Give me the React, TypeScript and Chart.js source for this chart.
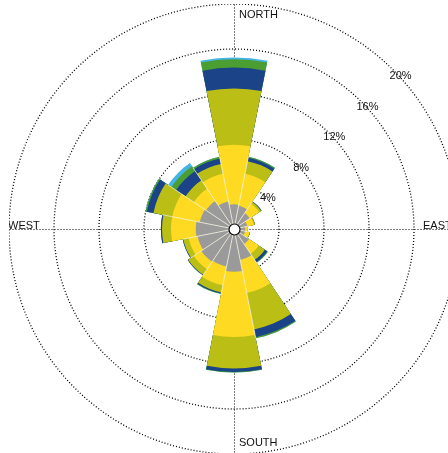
import React, { useEffect, useRef } from "react";
import { Chart, registerables } from "chart.js";

Chart.register(...registerables);

// 16 compass sectors, clockwise from north
const directions = ["N", "NNE", "NE", "ENE", "E", "ESE", "SE", "SSE", "S", "SSW", "SW", "WSW", "W", "WNW", "NW", "NNW"];

// frequency (%) of each speed class per direction (not cumulative)
const speedClass1 = [2.2, 2.1, 1.7, 1.2, 1.0, 1.0, 1.6, 2.8, 3.8, 3.4, 3.5, 3.3, 3.4, 3.1, 3.0, 2.5];
const speedClass2 = [5.3, 2.9, 1.0, 0.6, 0.2, 0.4, 1.05, 3.0, 5.8, 1.7, 0.8, 0.8, 2.2, 2.5, 1.3, 2.5];
const speedClass3 = [5.0, 1.15, 0.2, 0.1, 0.05, 0.05, 0.65, 3.3, 2.8, 0.65, 0.6, 0.5, 0.8, 1.7, 0.9, 0.9];
const speedClass4 = [1.85, 0.3, 0.05, 0, 0, 0, 0.25, 0.7, 0.3, 0.1, 0.05, 0.05, 0.1, 0.6, 1.0, 0.5];
const speedClass5 = [0.75, 0.1, 0, 0, 0, 0, 0.07, 0.1, 0.05, 0.05, 0, 0, 0, 0.12, 0.5, 0.15];
const speedClass6 = [0.15, 0, 0, 0, 0, 0, 0, 0, 0, 0, 0, 0, 0, 0, 0.35, 0];

const classNames = ["class 1", "class 2", "class 3", "class 4", "class 5", "class 6"];
const classColors = ["#9a9a9a", "#ffda22", "#bbbe14", "#1a4388", "#4b9e32", "#45b5e5"];

const ringTicks = [4, 8, 12, 16, 20];
const ringLabels = ["4%", "8%", "12%", "16%", "20%"];
const compassLabels = ["NORTH", "EAST", "SOUTH", "WEST"];

const FONT = '11px "Liberation Sans", Arial, sans-serif';

function cumulative(): number[][] {
  const series = [speedClass1, speedClass2, speedClass3, speedClass4, speedClass5, speedClass6];
  const out: number[][] = [];
  let run = directions.map(() => 0);
  series.forEach((s) => {
    run = run.map((v, i) => v + s[i]);
    out.push(run.slice());
  });
  return out;
}

const decor = {
  id: "roseDecor",
  beforeDatasetsDraw(chart: any) {
    const s = chart.scales.r;
    const ctx = chart.ctx;
    const cx = s.xCenter + 0.5;
    const cy = s.yCenter + 0.5;
    const R = s.drawingArea;
    ctx.save();
    ctx.strokeStyle = "#000";
    ctx.lineWidth = 1;
    ctx.setLineDash([1, 2]);
    ctx.beginPath();
    ctx.moveTo(cx, cy - R);
    ctx.lineTo(cx, cy + R);
    ctx.moveTo(cx - R, cy);
    ctx.lineTo(cx + R, cy);
    ctx.stroke();
    ctx.restore();
  },
  afterDatasetsDraw(chart: any) {
    const s = chart.scales.r;
    const ctx = chart.ctx;
    const cx = s.xCenter;
    const cy = s.yCenter;
    const R = s.drawingArea;
    const cum = cumulative();
    const totals = cum[cum.length - 1];
    // thin separators between sectors
    ctx.save();
    ctx.strokeStyle = "rgba(255,255,255,0.85)";
    ctx.lineWidth = 0.8;
    const n = directions.length;
    for (let i = 0; i < n; i++) {
      const len = s.getDistanceFromCenterForValue(Math.min(totals[i], totals[(i + 1) % n]));
      const th = ((i + 0.5) * 360) / n * Math.PI / 180;
      ctx.beginPath();
      ctx.moveTo(cx, cy);
      ctx.lineTo(cx + len * Math.sin(th), cy - len * Math.cos(th));
      ctx.stroke();
    }
    ctx.restore();
    // centre circle
    ctx.save();
    ctx.beginPath();
    ctx.arc(cx + 0.5, cy + 0.5, 5.5, 0, Math.PI * 2);
    ctx.fillStyle = "#fff";
    ctx.fill();
    ctx.lineWidth = 1.2;
    ctx.strokeStyle = "#000";
    ctx.stroke();
    ctx.restore();
    // ring labels
    ctx.save();
    ctx.font = FONT;
    ctx.fillStyle = "#111";
    ctx.textAlign = "center";
    ctx.textBaseline = "middle";
    const a = (42.5 * Math.PI) / 180;
    ringTicks.forEach((v, i) => {
      const r = s.getDistanceFromCenterForValue(v) + 1;
      ctx.fillText(ringLabels[i], cx + r * Math.cos(a), cy - r * Math.sin(a));
    });
    // compass labels
    ctx.textBaseline = "alphabetic";
    ctx.textAlign = "left";
    ctx.fillText(compassLabels[0], cx + 5, cy - R + 13.5);
    ctx.fillText(compassLabels[1], cx + R - 36, cy);
    ctx.fillText(compassLabels[2], cx + 5, cy + R - 8.5);
    ctx.fillText(compassLabels[3], cx - R - 1, cy);
    ctx.restore();
  },
};

export default function App() {
  const ref = useRef<HTMLCanvasElement | null>(null);
  useEffect(() => {
    if (!ref.current) return;
    const cum = cumulative();
    const chart = new Chart(ref.current, {
      type: "polarArea",
      data: {
        labels: directions,
        datasets: cum.map((vals, k) => ({
          label: classNames[k],
          data: vals,
          backgroundColor: classColors[k],
          borderWidth: 0,
        })),
      },
      options: {
        responsive: false,
        animation: false,
        layout: { padding: 0 },
        plugins: { legend: { display: false }, tooltip: { enabled: false } },
        scales: {
          r: {
            min: 0,
            max: 20,
            startAngle: -11.25,
            ticks: { display: false, stepSize: 4 },
            grid: { circular: true, color: "#000", lineWidth: 1.3 },
            border: { dash: [1, 2] },
            angleLines: { display: false },
            pointLabels: { display: false },
          },
        },
      } as any,
      plugins: [decor],
    });
    return () => chart.destroy();
  }, []);
  return (
    <div style={{ position: "fixed", left: 0, top: 0, width: 448, height: 453, overflow: "hidden", background: "#fff" }}>
      <canvas ref={ref} width={450} height={450} style={{ position: "absolute", left: 9, top: 4, width: 450, height: 450 }} />
    </div>
  );
}
